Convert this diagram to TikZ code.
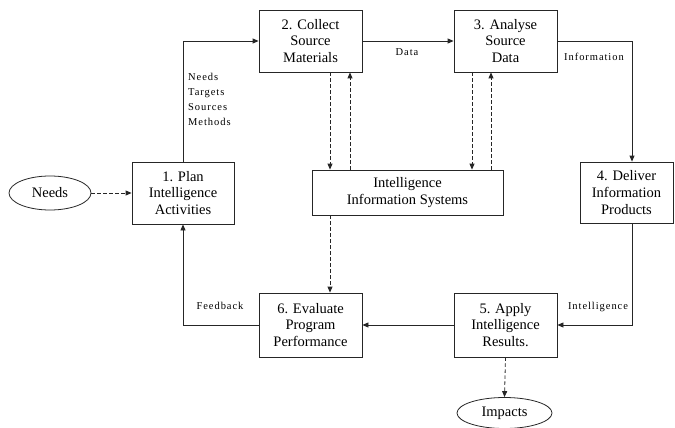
\documentclass[tikz,border=0pt]{standalone}
\usepackage{fontspec}
\setmainfont{Liberation Serif}
\newfontfamily\labelfont[LetterSpace=9]{Liberation Serif}
\usetikzlibrary{arrows.meta,shapes.geometric}
\begin{document}
\begin{tikzpicture}[x=1pt,y=-1pt,
  box/.style={draw=black!85, line width=0.8pt, rectangle, inner sep=0pt, align=center,
    font=\fontsize{14.5}{16.7}\selectfont},
  oval/.style={draw=black!85, line width=0.8pt, ellipse, inner sep=0pt,
    font=\fontsize{14.5}{16.7}\selectfont},
  conn/.style={draw=black!85, line width=0.8pt, -{Triangle[length=6pt,width=5pt]}},
  dconn/.style={conn, dash pattern=on 3.5pt off 2.5pt},
  lbl/.style={inner sep=0pt, align=left, font=\labelfont\fontsize{10.5}{15}\selectfont}
]
\useasboundingbox (0,0) rectangle (675,428);
\node[box, minimum width=102pt, minimum height=62pt] (b1) at (183,193) {1. Plan\\Intelligence\\Activities};
\node[box, minimum width=103pt, minimum height=62pt] (b2) at (310.5,41) {2. Collect\\Source\\Materials};
\node[box, minimum width=103pt, minimum height=62pt] (b3) at (505.5,41) {3. Analyse\\Source\\Data};
\node[box, minimum width=93pt, minimum height=61pt] (b4) at (626.5,192.5) {4. Deliver\\Information\\Products};
\node[box, minimum width=103pt, minimum height=64pt] (b5) at (505.5,325) {5. Apply\\Intelligence\\Results.};
\node[box, minimum width=103pt, minimum height=64pt] (b6) at (310.5,325) {6. Evaluate\\Program\\Performance};
\node[box, minimum width=191pt, minimum height=45pt] (iis) at (407.5,192.5) {Intelligence\\Information Systems};
\node[oval, minimum width=82pt, minimum height=34pt] (needs) at (50,193) {Needs};
\node[oval, minimum width=95pt, minimum height=31pt] (impacts) at (504.5,413) {Impacts};

\draw[dconn] (needs.east) -- (b1.west);
\draw[conn] (b1.north) |- (b2.west);
\node[lbl, anchor=north west] (lneeds) at (188,73) {Needs\\Targets\\Sources\\Methods};
\draw[conn] (b2.east) -- (b3.west);
\node[lbl] (ldata) at (407,52) {Data};
\draw[conn] (b3.east) -| ([xshift=5.5pt]b4.north);
\node[lbl] (linfo) at (594,57) {Information};
\draw[conn] ([xshift=5.5pt]b4.south) |- (b5.east);
\node[lbl] (lintel) at (598,307) {Intelligence};
\draw[conn] (b5.west) -- (b6.east);
\draw[conn] (b6.west) -| (b1.south);
\node[lbl] (lfeed) at (220,306) {Feedback};

\draw[dconn] ([xshift=19.5pt]b2.south) -- ([xshift=19.5pt]b2.south |- iis.north);
\draw[dconn] ([xshift=39.5pt]b2.south |- iis.north) -- ([xshift=39.5pt]b2.south);
\draw[dconn] ([xshift=-33.5pt]b3.south) -- ([xshift=-33.5pt]b3.south |- iis.north);
\draw[dconn] ([xshift=-14.5pt]b3.south |- iis.north) -- ([xshift=-14.5pt]b3.south);
\draw[dconn] ([xshift=-77.5pt]iis.south) -- ([xshift=-77.5pt]iis.south |- b6.north);
\draw[dconn] (b5.south) -- (impacts.north);
\end{tikzpicture}
\end{document}
